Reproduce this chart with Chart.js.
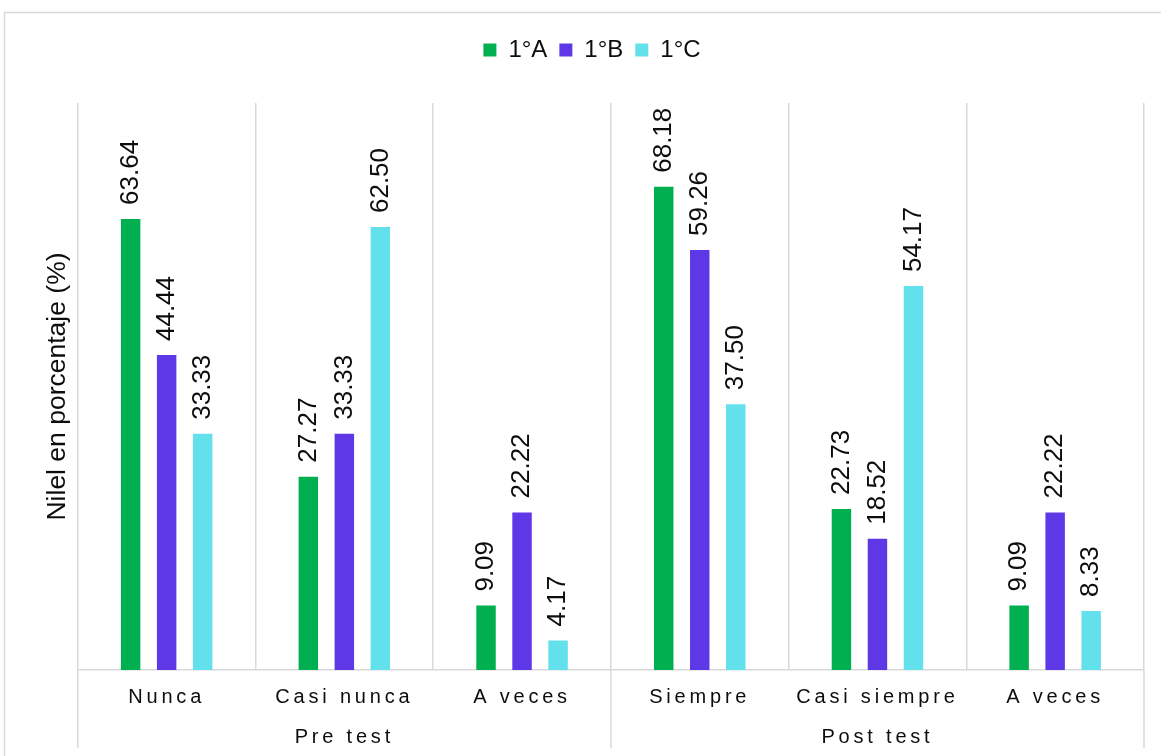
<!DOCTYPE html>
<html>
<head>
<meta charset="utf-8">
<title>Nivel en porcentaje</title>
<script src="https://cdn.jsdelivr.net/npm/chart.js@4.4.1/dist/chart.umd.min.js"></script>
<style>
  html, body { margin: 0; padding: 0; background: #fff; }
  #wrap { position: relative; width: 1161px; height: 756px; }
</style>
</head>
<body>
<div id="wrap"><canvas id="chart"></canvas></div>
<script>
// datos
const categories = ['Nunca', 'Casi nunca', 'A veces', 'Siempre', 'Casi siempre', 'A veces'];
const groupNames = ['Pre test', 'Post test'];
const groupSizes = [3, 3];
const seriesNames = ['1°A', '1°B', '1°C'];
const values1A = [63.64, 27.27, 9.09, 68.18, 22.73, 9.09];
const values1B = [44.44, 33.33, 22.22, 59.26, 18.52, 22.22];
const values1C = [33.33, 62.50, 4.17, 37.50, 54.17, 8.33];
const yMin = 0;
const yMax = 80;

const colors = ['#00b050', '#5e37e6', '#62e0eb'];
const FONT = '"Liberation Sans", Arial, sans-serif';
const TEXT = '#0d0d0d';
const GRID = '#d9d9d9';

// etiquetas del segundo nivel, centradas en la categoría del medio de cada grupo
const groupTicks = [];
groupSizes.forEach((n, g) => {
  for (let i = 0; i < n; i++) groupTicks.push(i === Math.floor(n / 2) ? groupNames[g] : '');
});

/**
 * marco gris exterior
 */
const frame = {
  id: 'frame',
  beforeDraw(chart) {
    const ctx = chart.ctx;
    ctx.save();
    ctx.strokeStyle = GRID;
    ctx.lineWidth = 1.5;
    ctx.strokeRect(4.5, 12.5, chart.width + 20, chart.height + 20);
    ctx.restore();
  }
};

/**
 * espacio extra bajo la leyenda
 */
const legendGap = {
  id: 'legendGap',
  beforeInit(chart) {
    const fit = chart.legend.fit;
    chart.legend.fit = function() {
      fit.bind(chart.legend)();
      this.height += 31;
    };
  }
};

/**
 * valores rotados encima de cada barra + separadores de grupo
 */
const barLabels = {
  id: 'barLabels',
  afterDatasetsDraw(chart) {
    const ctx = chart.ctx;
    ctx.save();
    ctx.font = '26px ' + FONT;
    ctx.fillStyle = TEXT;
    ctx.textAlign = 'left';
    ctx.textBaseline = 'middle';
    chart.data.datasets.forEach((ds, di) => {
      chart.getDatasetMeta(di).data.forEach((bar, i) => {
        ctx.save();
        ctx.translate(bar.x, bar.y - 14);
        ctx.rotate(-Math.PI / 2);
        ctx.fillText(ds.data[i].toFixed(2), 0, 0);
        ctx.restore();
      });
    });
    ctx.restore();
    // las etiquetas del eje x se dibujan después (z = 1), con espaciado
    ctx.letterSpacing = '3.8px';
  },
  afterDraw(chart) {
    const ctx = chart.ctx;
    ctx.letterSpacing = '0px';
    const xs = chart.scales.x;
    const area = chart.chartArea;
    const bounds = [area.left];
    let idx = 0;
    groupSizes.forEach((n) => {
      idx += n;
      if (idx < categories.length) {
        bounds.push((xs.getPixelForValue(idx - 1) + xs.getPixelForValue(idx)) / 2);
      }
    });
    bounds.push(area.right);
    ctx.save();
    ctx.strokeStyle = GRID;
    ctx.lineWidth = 1.5;
    bounds.forEach(x => {
      ctx.beginPath();
      ctx.moveTo(x, area.bottom);
      ctx.lineTo(x, chart.height - 8);
      ctx.stroke();
    });
    ctx.restore();
  }
};

const ctx = document.getElementById('chart').getContext('2d');
new Chart(ctx, {
  type: 'bar',
  data: {
    labels: categories,
    datasets: [
      { label: seriesNames[0], data: values1A, backgroundColor: colors[0] },
      { label: seriesNames[1], data: values1B, backgroundColor: colors[1] },
      { label: seriesNames[2], data: values1C, backgroundColor: colors[2] }
    ]
  },
  options: {
    responsive: true,
    maintainAspectRatio: false,
    animation: false,
    categoryPercentage: 0.608,
    barPercentage: 0.54,
    layout: { padding: { top: 26, left: 40, right: 17, bottom: 8 } },
    plugins: {
      tooltip: { enabled: false },
      legend: {
        position: 'top',
        align: 'center',
        labels: {
          boxWidth: 13,
          boxHeight: 13,
          padding: 12,
          color: TEXT,
          font: { family: FONT, size: 24 }
        }
      }
    },
    scales: {
      x: {
        offset: true,
        grid: { color: GRID, lineWidth: 1.5, drawTicks: false },
        border: { color: GRID, width: 1.5 },
        ticks: {
          z: 1,
          color: TEXT,
          font: { family: FONT, size: 20 },
          padding: 15,
          maxRotation: 0,
          autoSkip: false
        },
        afterFit(scale) { scale.height = 40; }
      },
      x2: {
        type: 'category',
        position: 'bottom',
        offset: true,
        labels: groupTicks,
        grid: { display: false },
        border: { display: false },
        ticks: {
          z: 1,
          color: TEXT,
          font: { family: FONT, size: 20 },
          padding: 7,
          maxRotation: 0,
          autoSkip: false
        },
        afterFit(scale) { scale.height = 38; }
      },
      y: {
        min: yMin,
        max: yMax,
        grid: { display: false, drawTicks: false },
        border: { display: false },
        ticks: { display: false },
        title: {
          display: true,
          text: 'Nilel en porcentaje (%)',
          color: TEXT,
          font: { family: FONT, size: 26.5 },
          padding: { top: 2, bottom: 4 }
        }
      }
    }
  },
  plugins: [frame, legendGap, barLabels]
});
</script>
</body>
</html>
